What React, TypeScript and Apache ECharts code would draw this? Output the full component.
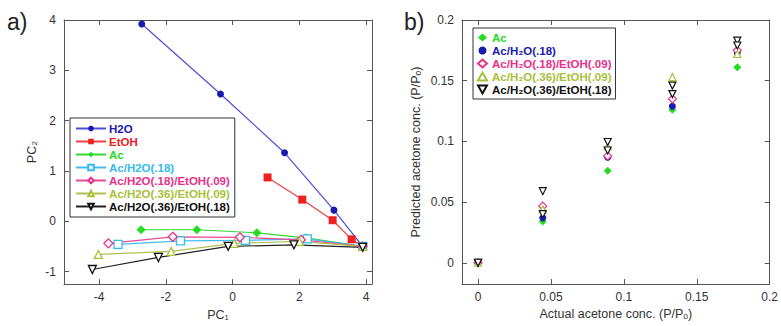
import React, { useEffect, useRef } from "react";
import * as echarts from "echarts";

// ---------- Panel a) PCA trajectories [PC1, PC2] ----------
const leftNames = [
  "H2O",
  "EtOH",
  "Ac",
  "Ac/H2O(.18)",
  "Ac/H2O(.18)/EtOH(.09)",
  "Ac/H2O(.36)/EtOH(.09)",
  "Ac/H2O(.36)/EtOH(.18)",
];
const h2o = [[-2.72, 3.92], [-0.36, 2.53], [1.56, 1.36], [3.04, 0.22], [3.9, -0.5]];
const etoh = [[1.05, 0.87], [2.09, 0.43], [3.0, 0.02], [3.57, -0.36], [3.9, -0.5]];
const ac = [[-2.74, -0.17], [-1.07, -0.17], [0.73, -0.23], [2.2, -0.33], [3.9, -0.5]];
const acH2o18 = [[-3.43, -0.46], [-1.56, -0.39], [0.39, -0.38], [2.24, -0.35], [3.9, -0.5]];
const acH2o18Etoh09 = [[-3.72, -0.44], [-1.79, -0.31], [0.22, -0.32], [2.05, -0.37], [3.9, -0.5]];
const acH2o36Etoh09 = [[-4.02, -0.66], [-1.84, -0.6], [0.05, -0.44], [2.0, -0.4], [3.9, -0.5]];
const acH2o36Etoh18 = [[-4.2, -0.96], [-2.22, -0.72], [-0.13, -0.5], [1.84, -0.47], [3.9, -0.52]];

// ---------- Panel b) predicted vs actual acetone ----------
const rightNames = [
  "Ac",
  "Ac/H₂O(.18)",
  "Ac/H₂O(.18)/EtOH(.09)",
  "Ac/H₂O(.36)/EtOH(.09)",
  "Ac/H₂O(.36)/EtOH(.18)",
];
const actualConc = [0, 0.0444, 0.0889, 0.1333, 0.1778];
const predAc = [0, 0.034, 0.0757, 0.126, 0.161];
const predAcH2o18 = [0, 0.037, 0.087, 0.129, 0.173];
const predAcH2o18Etoh09 = [0, 0.0466, 0.088, 0.135, 0.175];
const predAcH2o36Etoh09 = [0, 0.044, 0.096, 0.153, 0.172];
const predAcH2o36Etoh18 = [0, 0.059, 0.0995, 0.146, 0.183];
const predAcH2o36Etoh18Rep = [0, 0.04, 0.0925, 0.139, 0.179];

const FONT = "'Liberation Sans', Arial, Helvetica, sans-serif";
const AXIS = "#555";
const LABEL = "#333";
const DOWN_TRI = "path://M0,0 L10,0 L5,9 Z";

const stepFmt = (step: number) => (v: number) => {
  const r = v / step;
  if (Math.abs(r - Math.round(r)) > 1e-6) return "";
  return String(parseFloat(v.toFixed(4)));
};

function frameAxes(grid: number, min: number, max: number, step: number, isX: boolean, name: string, nameGap: number) {
  const base: any = {
    type: "value",
    gridIndex: grid,
    min,
    max,
    splitNumber: 5,
    splitLine: { show: false },
    axisLine: { show: true, onZero: false, lineStyle: { color: AXIS, width: 1 } },
    axisTick: { show: true, inside: true, length: 5, lineStyle: { color: AXIS } },
  };
  const main = {
    ...base,
    position: isX ? "bottom" : "left",
    name,
    nameLocation: "middle",
    nameGap,
    nameTextStyle: { fontFamily: FONT, fontSize: 12.5, color: LABEL },
    axisLabel: { show: true, fontFamily: FONT, fontSize: 12, color: LABEL, margin: isX ? 7 : 8, formatter: stepFmt(step) },
  };
  const opp = {
    ...base,
    position: isX ? "top" : "right",
    axisLabel: { show: false },
  };
  return [main, opp];
}

function lineSeries(name: string, data: number[][], color: string, lineColor: string, symbol: string, size: number, open: boolean) {
  return {
    type: "line",
    name,
    xAxisIndex: 0,
    yAxisIndex: 0,
    data,
    symbol,
    symbolSize: size,
    showAllSymbol: true,
    lineStyle: { color: lineColor, width: 1.2 },
    itemStyle: open
      ? { color: "#ffffff", borderColor: color, borderWidth: 1.3 }
      : { color, borderColor: color, borderWidth: 0 },
    z: 2,
  };
}

function scatterSeries(name: string, ys: number[], color: string, symbol: string, size: number, open: boolean, extra?: number[]) {
  const data = actualConc.map((x, i) => [x, ys[i]]);
  if (extra) extra.forEach((y, i) => data.push([actualConc[i], y]));
  return {
    type: "scatter",
    name,
    xAxisIndex: 2,
    yAxisIndex: 2,
    data,
    symbol,
    symbolSize: size,
    itemStyle: open
      ? { color: "#ffffff", borderColor: color, borderWidth: 1.2, opacity: 1 }
      : { color, borderColor: color, borderWidth: 0, opacity: 1 },
  };
}

const leftColors = ["#1a1ab0", "#ee2020", "#22dd22", "#33bbee", "#e8308a", "#a8c03a", "#111111"];
const rightColors = ["#22dd22", "#1a1ab0", "#e8308a", "#a8c03a", "#111111"];

export default function App() {
  const ref = useRef<HTMLDivElement>(null);
  useEffect(() => {
    if (!ref.current) return;
    const chart = echarts.init(ref.current, undefined, { renderer: "svg" });
    const [lx, lxTop] = frameAxes(0, -5.05, 4.18, 2, true, "PC₁", 22);
    const [ly, lyRight] = frameAxes(0, -1.25, 4, 1, false, "PC₂", 26);
    const [rx, rxTop] = frameAxes(1, -0.011, 0.2, 0.05, true, "Actual acetone conc. (P/Pₒ)", 22);
    const [ry, ryRight] = frameAxes(1, -0.0175, 0.2, 0.05, false, "Predicted acetone conc. (P/Pₒ)", 40);

    const option: any = {
      animation: false,
      backgroundColor: "#ffffff",
      textStyle: { fontFamily: FONT },
      grid: [
        { left: 64, top: 20, width: 308, height: 265, containLabel: false },
        { left: 462, top: 20, width: 309, height: 264, containLabel: false },
      ],
      xAxis: [lx, lxTop, rx, rxTop],
      yAxis: [ly, lyRight, ry, ryRight],
      legend: [
        {
          orient: "vertical",
          left: 70,
          top: 118,
          padding: [4, 5, 4, 5],
          itemGap: 0,
          itemWidth: 30,
          itemHeight: 7,
          borderColor: "#333",
          borderWidth: 1,
          backgroundColor: "#ffffff",
          selectedMode: false,
          textStyle: { fontFamily: FONT, fontSize: 11.5, fontWeight: "bold", lineHeight: 13, padding: [0, 0, 0, -2] },
          data: leftNames.map((n, i) => ({ name: n, textStyle: { color: leftColors[i] } })),
        },
        {
          orient: "vertical",
          left: 473,
          top: 28,
          padding: [3, 4, 3, 4],
          itemGap: 0,
          itemWidth: 9,
          itemHeight: 8,
          borderColor: "#333",
          borderWidth: 1,
          backgroundColor: "#ffffff",
          selectedMode: false,
          textStyle: { fontFamily: FONT, fontSize: 11.5, fontWeight: "bold", lineHeight: 13 },
          data: rightNames.map((n, i) => ({ name: "b:" + n, textStyle: { color: rightColors[i] } })),
          formatter: (name: string) => name.slice(2),
        },
      ],
      graphic: [
        { type: "text", left: 7, top: 10, style: { text: "a)", fontFamily: FONT, fontSize: 23, fill: "#222" } },
        { type: "text", left: 404, top: 10, style: { text: "b)", fontFamily: FONT, fontSize: 23, fill: "#222" } },
      ],
      series: [
        lineSeries(leftNames[0], h2o, leftColors[0], "#4d4ddd", "circle", 7, false),
        lineSeries(leftNames[1], etoh, leftColors[1], "#f04040", "rect", 8, false),
        lineSeries(leftNames[2], ac, leftColors[2], "#33d633", "diamond", 9, false),
        lineSeries(leftNames[3], acH2o18, leftColors[3], "#44bbee", "rect", 8, true),
        lineSeries(leftNames[4], acH2o18Etoh09, leftColors[4], "#e84a96", "diamond", 9, true),
        lineSeries(leftNames[5], acH2o36Etoh09, leftColors[5], "#b0c050", "triangle", 8, true),
        lineSeries(leftNames[6], acH2o36Etoh18, leftColors[6], "#222222", DOWN_TRI, 8, true),
        scatterSeries("b:" + rightNames[0], predAc, rightColors[0], "diamond", 8, false),
        scatterSeries("b:" + rightNames[1], predAcH2o18, rightColors[1], "circle", 7, false),
        scatterSeries("b:" + rightNames[2], predAcH2o18Etoh09, rightColors[2], "diamond", 8, true),
        scatterSeries("b:" + rightNames[3], predAcH2o36Etoh09, rightColors[3], "triangle", 7, true),
        scatterSeries("b:" + rightNames[4], predAcH2o36Etoh18, rightColors[4], DOWN_TRI, 7, true, predAcH2o36Etoh18Rep),
      ],
    };
    chart.setOption(option);
    return () => chart.dispose();
  }, []);
  return (
    <div
      ref={ref}
      style={{ position: "absolute", left: 0, top: 0, width: 781, height: 326, background: "#fff" }}
    />
  );
}
